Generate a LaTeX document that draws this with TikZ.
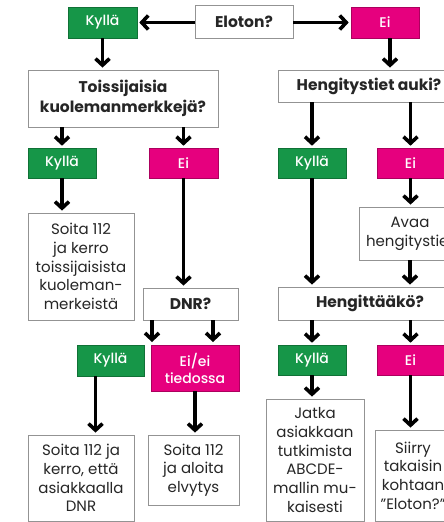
\documentclass[tikz,border=0pt]{standalone}
\usepackage{fontspec}
\setmainfont{Poppins}
\newfontfamily\medfont{Poppins Medium}
\usetikzlibrary{arrows.meta}
\definecolor{vihrea}{RGB}{22,150,72}
\definecolor{pinkki}{RGB}{230,0,126}
\begin{document}
\begin{tikzpicture}[x=1pt,y=-1pt,
  laatikko/.style={draw=gray!85, line width=0.8pt, fill=white, text=black!85, align=center, inner sep=0pt,
    font=\fontsize{15}{18.7}\selectfont},
  kysymys/.style={laatikko, font=\bfseries\fontsize{15.5}{19.5}\selectfont},
  kylla/.style={draw=vihrea!75!black, line width=0.6pt, fill=vihrea, text=white, align=center,
    inner sep=0pt, font=\medfont\fontsize{14}{17}\selectfont},
  ei/.style={kylla, draw=pinkki!75!black, fill=pinkki},
  nuoli/.style={draw, line width=3.6pt, -{Straight Barb[length=6.5pt,width=14pt]}, shorten >=2pt}]
\useasboundingbox (0,0) rectangle (444,522);
\fill[white] (0,0) rectangle (444,522);
\clip (0,0) rectangle (444,522);
% ylin rivi
\node[kysymys, minimum width=98, minimum height=33] (eloton) at (244,21.5) {Eloton?};
\node[kylla, minimum width=69, minimum height=31] (k1) at (102.5,22.5) {Kyllä};
\node[ei, minimum width=68, minimum height=31] (e1) at (385,22.5) {Ei};
\node[kysymys, minimum width=190, minimum height=57] (toiss) at (123,98.5) {Toissijaisia\\kuolemanmerkkejä?};
\node[kysymys, minimum width=182, minimum height=32] (hengt) at (369,86) {Hengitystiet auki?};
% toinen rivi
\node[kylla, minimum width=68, minimum height=30] (k2) at (62,163) {Kyllä};
\node[ei, minimum width=69, minimum height=30] (e2) at (183.5,163) {Ei};
\node[kylla, minimum width=68, minimum height=30] (k4) at (312,163) {Kyllä};
\node[ei, minimum width=67, minimum height=30] (e4) at (410.5,163) {Ei};
\node[laatikko, minimum width=106, minimum height=107] (soita1) at (81,266.5) {Soita 112\\ja kerro\\toissijaisista\\kuoleman-\\merkeistä};
\node[kysymys, minimum width=95, minimum height=32] (dnr) at (190.5,304) {DNR?};
\node[laatikko, minimum width=102, minimum height=53] (avaa) at (410,233.5) {Avaa\\hengitystiet};
\node[kysymys, minimum width=184, minimum height=33] (hengit) at (370,303.5) {Hengittääkö?};
% kolmas rivi
\node[kylla, minimum width=67, minimum height=31] (k3) at (110.5,360.5) {Kyllä};
\node[ei, minimum width=88, minimum height=46] (e3) at (195,368) {Ei/ei\\tiedossa};
\node[kylla, minimum width=68, minimum height=30] (k5) at (312,360) {Kyllä};
\node[ei, minimum width=67, minimum height=30] (e5) at (410.5,360) {Ei};
\node[laatikko, minimum width=106, minimum height=86] (soita2) at (81,478) {Soita 112 ja\\kerro, että\\asiakkaalla\\DNR};
\node[laatikko, minimum width=91, minimum height=70] (soita3) at (193.5,470) {Soita 112\\ja aloita\\elvytys};
\node[laatikko, minimum width=98, minimum height=122] (jatka) at (315,460) {Jatka\\asiakkaan\\tutkimista\\ABCDE-\\mallin mu-\\kaisesti};
\node[laatikko, minimum width=76, minimum height=91] (siirry) at (413,475.5) {Siirry\\takaisin\\kohtaan\\”Eloton?”};
\coordinate (a1) at (152,344);
\coordinate (a2) at (213,344);
% nuolet
\path[nuoli] (eloton.west |- k1) -- (k1.east);
\path[nuoli] (eloton.east |- e1) -- (e1.west);
\path[nuoli] (k1.south) -- (k1 |- toiss.north);
\path[nuoli] ([xshift=5pt]e1.south) -- ([xshift=5pt]e1.south |- hengt.north);
\path[nuoli] (toiss.south -| k2) -- (k2.north);
\path[nuoli] (toiss.south -| e2) -- (e2.north);
\path[nuoli] (hengt.south -| k4) -- (k4.north);
\path[nuoli] (hengt.south -| e4) -- (e4.north);
\path[nuoli] (k2.south) -- (k2 |- soita1.north);
\path[nuoli] (e2.south) -- (e2 |- dnr.north);
\path[nuoli] (k4.south) -- (k4 |- hengit.north);
\path[nuoli] (e4.south) -- (e4 |- avaa.north);
\path[nuoli] (avaa.south) -- (avaa |- hengit.north);
\path[nuoli] (dnr.south -| a1) -- (a1);
\path[nuoli] (dnr.south -| a2) -- (a2);
\path[nuoli] (hengit.south -| k5) -- (k5.north);
\path[nuoli] (hengit.south -| e5) -- (e5.north);
\path[nuoli] ([xshift=-15pt]k3.south) -- ([xshift=-15pt]k3.south |- soita2.north);
\path[nuoli] (e3.south) -- (e3 |- soita3.north);
\path[nuoli] (k5.south) -- (k5 |- jatka.north);
\path[nuoli] (e5.south) -- (e5 |- siirry.north);
\end{tikzpicture}
\end{document}
